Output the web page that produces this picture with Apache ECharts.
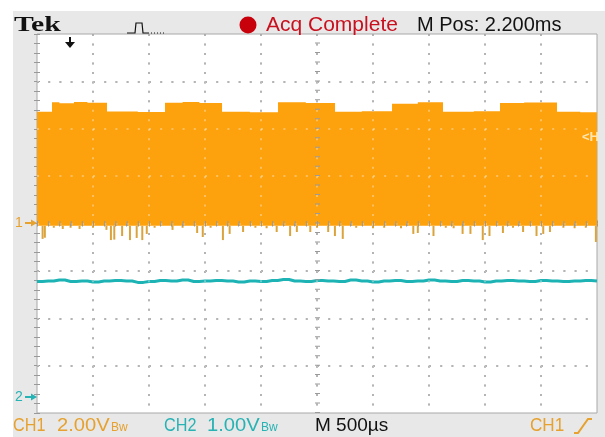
<!DOCTYPE html>
<html>
<head>
<meta charset="utf-8">
<script src="https://cdn.jsdelivr.net/npm/echarts@6/dist/echarts.min.js"></script>
<style>
html, body { margin: 0; padding: 0; background: #fff; }
#chart { width: 605px; height: 437px; }
</style>
</head>
<body>
<div id="chart"></div>
<script>
// CH1 (2 V/div) - top edge of the envelope, level holds from upT[i] to upT[i+1]
var upT = [0, 0.134, 0.2, 0.33, 0.45, 0.625, 0.9, 1.143, 1.3, 1.45, 1.652, 1.9, 2.152, 2.4, 2.661, 2.9, 3.17, 3.4, 3.625, 3.9, 4.134, 4.35, 4.643, 4.85, 5.0];
var upV = [4.72, 5.12, 5.08, 5.13, 5.10, 4.73, 4.71, 5.10, 5.13, 5.09, 4.72, 4.70, 5.12, 5.09, 4.72, 4.74, 5.06, 5.12, 4.72, 4.74, 5.09, 5.11, 4.72, 4.70, 4.70];
var lowBase = -0.1;

// CH1 downward glitches under the band (ms, V)
var spikeT = [0.05, 0.07, 0.15, 0.23, 0.30, 0.38, 0.50, 0.62, 0.66, 0.69, 0.76, 0.83, 0.89, 0.94, 0.98, 1.05, 1.21, 1.30, 1.43, 1.48, 1.55, 1.66, 1.72, 1.84, 1.95, 2.05, 2.14, 2.26, 2.32, 2.44, 2.50, 2.60, 2.66, 2.73, 2.85, 3.00, 3.10, 3.25, 3.36, 3.40, 3.54, 3.65, 3.72, 3.80, 3.87, 3.98, 4.04, 4.16, 4.25, 4.34, 4.46, 4.52, 4.58, 4.70, 4.80, 4.90, 4.99];
var spikeV = [-0.65, -0.60, -0.18, -0.23, -0.18, -0.23, -0.18, -0.27, -0.70, -0.68, -0.53, -0.70, -0.61, -0.70, -0.44, -0.18, -0.27, -0.18, -0.40, -0.57, -0.18, -0.70, -0.44, -0.36, -0.18, -0.20, -0.36, -0.53, -0.36, -0.36, -0.18, -0.36, -0.53, -0.65, -0.18, -0.20, -0.18, -0.20, -0.44, -0.40, -0.53, -0.18, -0.20, -0.44, -0.44, -0.70, -0.53, -0.40, -0.18, -0.36, -0.53, -0.44, -0.36, -0.18, -0.20, -0.18, -0.78];

// CH2 (1 V/div)
var ch2T = [0, 0.1, 0.2, 0.3, 0.4, 0.5, 0.6, 0.7, 0.8, 0.9, 1.0, 1.1, 1.2, 1.3, 1.4, 1.5, 1.6, 1.7, 1.8, 1.9, 2.0, 2.1, 2.2, 2.3, 2.4, 2.5, 2.6, 2.7, 2.8, 2.9, 3.0, 3.1, 3.2, 3.3, 3.4, 3.5, 3.6, 3.7, 3.8, 3.9, 4.0, 4.1, 4.2, 4.3, 4.4, 4.5, 4.6, 4.7, 4.8, 4.9, 5.0];
var ch2V = [2.46, 2.47, 2.49, 2.46, 2.47, 2.45, 2.47, 2.48, 2.47, 2.44, 2.46, 2.48, 2.47, 2.49, 2.46, 2.47, 2.48, 2.47, 2.45, 2.47, 2.46, 2.48, 2.50, 2.47, 2.46, 2.48, 2.47, 2.46, 2.49, 2.47, 2.45, 2.47, 2.48, 2.46, 2.47, 2.49, 2.47, 2.46, 2.48, 2.47, 2.45, 2.47, 2.48, 2.47, 2.46, 2.48, 2.47, 2.46, 2.47, 2.48, 2.47];

var orange = '#fda10d';
var cyan = '#1db3b5';
var chOrange = '#e6a12e';
var chCyan = '#27b2b4';

var chart = echarts.init(document.getElementById('chart'));

function timeAxis (pos, over) {
  return {
    type: 'value', min: 0, max: 5, interval: 0.5, position: pos, z: over ? 5 : 0,
    axisLine: {show: false},
    axisLabel: {show: false},
    axisTick: {show: true, inside: true, length: 3, lineStyle: {color: '#999'}},
    minorTick: {show: true, splitNumber: 5, length: 3, lineStyle: {color: '#999'}},
    splitLine: {
      show: true, showMinLine: false, showMaxLine: false,
      lineStyle: {color: over ? 'rgba(255,255,255,0.45)' : '#6a6a6a', width: 1.5, type: [2, 7.475]}
    }
  }
}
function voltAxis (pos, over) {
  return {
    type: 'value', min: -8, max: 8, interval: 2, position: pos, z: over ? 5 : 0,
    axisLine: {show: false},
    axisLabel: {show: false},
    axisTick: {show: true, inside: true, length: 3, lineStyle: {color: '#999'}},
    minorTick: {show: true, splitNumber: 5, length: 3, lineStyle: {color: '#999'}},
    splitLine: {
      show: true, showMinLine: false, showMaxLine: false,
      lineStyle: {color: over ? 'rgba(255,255,255,0.45)' : '#6a6a6a', width: 1.5, type: [2, 9.2]}
    }
  }
}

var bottomFont = '18px "Liberation Sans", Arial, sans-serif';
var bwFont = '12px "Liberation Sans", Arial, sans-serif';
function txt (x, y, s, font, fill, sx) {
  return {type: 'text', x: x, y: y, scaleX: sx || 1, z: 100, silent: true,
    style: {text: s, x: 0, y: 0, font: font, fill: fill, textVerticalAlign: 'middle', verticalAlign: 'middle'}}
}

var gfx = [
  {type: 'rect', shape: {x: 0, y: 0, width: 605, height: 11}, style: {fill: '#fff'}, z: -1, silent: true},
  {type: 'rect', shape: {x: 0, y: 0, width: 13, height: 437}, style: {fill: '#fff'}, z: -1, silent: true},
  txt(14, 25, 'Tek', 'bold 22px "Liberation Serif", serif', '#111', 1.35),
  {type: 'polyline', z: 100, shape: {points: [[127, 33], [135, 33], [136, 23], [142, 23], [143, 33], [148, 33]]}, style: {stroke: '#111', lineWidth: 1.2, fill: null}},
  {type: 'polyline', z: 100, shape: {points: [[148, 33], [165, 33]]}, style: {stroke: '#111', lineWidth: 1.2, lineDash: [1, 2], fill: null}},
  {type: 'circle', z: 100, shape: {cx: 248, cy: 25, r: 8.5}, style: {fill: '#c8000c'}},
  txt(266, 25, 'Acq Complete', '21px "Liberation Sans", Arial, sans-serif', '#c8101e'),
  txt(417, 25, 'M Pos: 2.200ms', '20px "Liberation Sans", Arial, sans-serif', '#111'),
  // trigger position arrow
  {type: 'rect', z: 100, shape: {x: 69, y: 37, width: 2, height: 6}, style: {fill: '#111'}},
  {type: 'polygon', z: 100, shape: {points: [[65, 42], [75, 42], [70, 48]]}, style: {fill: '#111'}},
  // ground markers
  txt(15, 223, '1', '14px "Liberation Sans", Arial, sans-serif', chOrange),
  {type: 'rect', z: 100, shape: {x: 25, y: 222, width: 8, height: 2}, style: {fill: chOrange}},
  {type: 'polygon', z: 100, shape: {points: [[31, 219.5], [37, 223], [31, 226.5]]}, style: {fill: chOrange}},
  txt(15, 397, '2', '14px "Liberation Sans", Arial, sans-serif', chCyan),
  {type: 'rect', z: 100, shape: {x: 25, y: 396, width: 8, height: 2}, style: {fill: chCyan}},
  {type: 'polygon', z: 100, shape: {points: [[31, 393.5], [37, 397], [31, 400.5]]}, style: {fill: chCyan}},
  // trigger level marker
  txt(582, 137, '<H', 'bold 13px "Liberation Sans", Arial, sans-serif', '#ffe6b0'),
  // status line
  txt(13, 426, 'CH1', bottomFont, chOrange, 0.9),
  txt(57, 426, '2.00V', bottomFont, chOrange, 1.12),
  txt(111, 428, 'Bw', bwFont, chOrange),
  txt(164, 426, 'CH2', bottomFont, chCyan, 0.9),
  txt(207, 426, '1.00V', bottomFont, chCyan, 1.12),
  txt(261, 428, 'Bw', bwFont, chCyan),
  txt(315, 426, 'M 500\u00b5s', '19px "Liberation Sans", Arial, sans-serif', '#111'),
  txt(530, 426, 'CH1', bottomFont, chOrange, 0.95),
  {type: 'polyline', z: 100, shape: {points: [[574, 433], [578, 433], [588, 419], [592, 419]]}, style: {stroke: chOrange, lineWidth: 2, fill: null}}
];

var option = {
  animation: false,
  backgroundColor: '#e8e8e8',
  grid: {left: 37, top: 34, right: 8, bottom: 24, show: true, backgroundColor: '#fff', borderColor: '#a8a8a8', borderWidth: 1},
  xAxis: [timeAxis('bottom', false), timeAxis('top', true)],
  yAxis: [
    voltAxis('left', false),
    voltAxis('right', true),
    {type: 'value', min: -0.317, max: 7.683, show: false}
  ],
  graphic: gfx,
  series: [
    {
      // centre cross with tick marks
      type: 'line', data: [], z: 1, xAxisIndex: 0, yAxisIndex: 0,
      markLine: {
        silent: true, symbol: 'none', label: {show: false},
        data: [
          {xAxis: 2.5, lineStyle: {color: '#9a9a9a', width: 5, type: [1, 8.475]}},
          {yAxis: 0, lineStyle: {color: '#9a9a9a', width: 5, type: [1, 10.2]}}
        ]
      }
    },
    {
      type: 'custom', z: 1, xAxisIndex: 0, yAxisIndex: 0, clip: true,
      data: spikeT.map(function (t, i) { return [t, spikeV[i]] }),
      renderItem: function (params, api) {
        var a = api.coord([api.value(0), lowBase]);
        var b = api.coord([api.value(0), api.value(1)]);
        return {type: 'rect', shape: {x: a[0] - 1, y: a[1], width: 2, height: b[1] - a[1]}, style: {fill: '#dba33c'}};
      }
    },
    {
      type: 'custom', z: 2, xAxisIndex: 0, yAxisIndex: 0, clip: true,
      data: [[0, 0]],
      renderItem: function (params, api) {
        var pts = [];
        for (var i = 0; i < upT.length - 1; i++) {
          pts.push(api.coord([upT[i], upV[i]]));
          pts.push(api.coord([upT[i + 1], upV[i]]));
        }
        pts.push(api.coord([upT[upT.length - 1], lowBase]));
        pts.push(api.coord([upT[0], lowBase]));
        return {type: 'polygon', shape: {points: pts}, style: {fill: orange}};
      }
    },
    {
      type: 'line', z: 3, xAxisIndex: 0, yAxisIndex: 2,
      data: ch2T.map(function (t, i) { return [t, ch2V[i]] }),
      showSymbol: false, step: 'middle',
      lineStyle: {color: cyan, width: 3}
    }
  ]
};
chart.setOption(option);
</script>
</body>
</html>
